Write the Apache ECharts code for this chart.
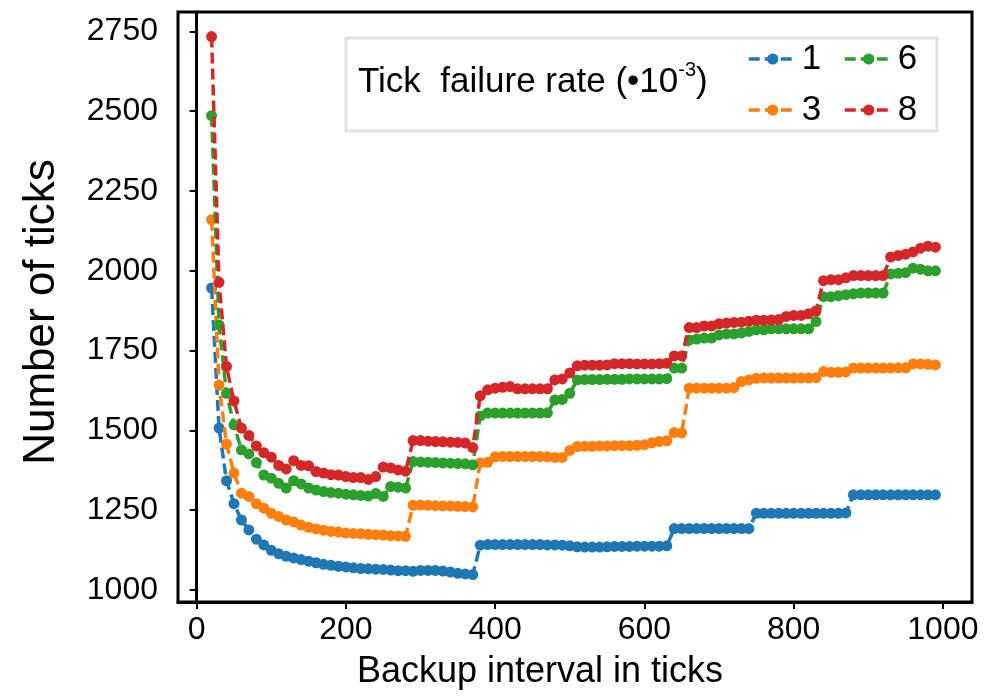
<!DOCTYPE html>
<html><head><meta charset="utf-8">
<script src="https://cdn.jsdelivr.net/npm/echarts@6/dist/echarts.min.js"></script>
<style>html,body{margin:0;padding:0;background:#fff}#c{width:999px;height:700px}</style>
</head><body><div id="c"></div>
<script>
const xValues = [20,30,40,50,60,70,80,90,100,110,120,130,140,150,160,170,180,190,200,210,220,230,240,250,260,270,280,290,300,310,320,330,340,350,360,370,380,390,400,410,420,430,440,450,460,470,480,490,500,510,520,530,540,550,560,570,580,590,600,610,620,630,640,650,660,670,680,690,700,710,720,730,740,750,760,770,780,790,800,810,820,830,840,850,860,870,880,890,900,910,920,930,940,950,960,970,980,990];
const rate1 = [1946,1507,1342,1270,1219,1188,1159,1141,1124,1113,
1105,1100,1095,1090,1085,1080,1077,1074,1072,1069,
1067,1066,1065,1064,1062,1060,1060,1058,1061,1061,
1061,1059,1056,1052,1050,1048,1140,1142,1142,1142,
1142,1142,1142,1142,1142,1141,1141,1140,1138,1135,
1134,1134,1134,1135,1136,1136,1136,1137,1137,1137,
1137,1138,1192,1192,1192,1192,1192,1192,1192,1192,
1192,1192,1192,1240,1240,1240,1240,1240,1240,1240,
1240,1240,1240,1240,1240,1241,1298,1298,1298,1298,
1298,1298,1298,1298,1298,1298,1298,1298];
const rate3 = [2160,1642,1457,1366,1303,1293,1270,1256,1240,1230,
1219,1213,1203,1196,1191,1187,1183,1181,1178,1177,
1176,1174,1173,1172,1170,1169,1168,1265,1266,1265,
1264,1263,1263,1262,1261,1260,1398,1400,1417,1418,
1418,1418,1418,1418,1418,1417,1415,1415,1437,1449,
1450,1450,1451,1451,1452,1452,1452,1453,1455,1461,
1465,1467,1493,1492,1632,1632,1632,1632,1632,1632,
1634,1653,1658,1663,1664,1664,1664,1664,1664,1664,
1664,1665,1684,1682,1682,1683,1695,1695,1695,1695,
1695,1695,1696,1696,1708,1708,1707,1705];
const rate6 = [2486,1830,1616,1517,1439,1426,1399,1360,1350,1334,
1319,1342,1332,1319,1313,1308,1305,1303,1300,1298,
1296,1294,1302,1293,1324,1322,1319,1402,1401,1400,
1399,1398,1397,1396,1395,1392,1545,1554,1554,1554,
1554,1554,1554,1554,1554,1555,1595,1597,1616,1658,
1659,1659,1659,1660,1660,1660,1661,1661,1661,1661,
1661,1662,1695,1695,1783,1786,1789,1789,1799,1802,
1802,1805,1810,1815,1815,1818,1818,1818,1818,1818,
1818,1841,1919,1919,1922,1925,1928,1930,1930,1930,
1930,1990,1992,1994,2008,2005,2000,2000];
const rate8 = [2734,1964,1700,1592,1507,1484,1451,1430,1416,1390,
1379,1405,1390,1389,1371,1366,1361,1360,1355,1352,
1352,1346,1355,1385,1382,1376,1372,1468,1468,1466,
1465,1464,1463,1462,1460,1446,1608,1627,1632,1635,
1637,1630,1630,1630,1630,1630,1658,1661,1680,1702,
1704,1704,1704,1705,1709,1709,1709,1708,1708,1708,
1709,1710,1733,1733,1822,1822,1827,1827,1834,1836,
1838,1839,1842,1845,1845,1846,1847,1857,1860,1860,
1865,1874,1969,1972,1972,1978,1985,1985,1985,1985,
1985,2043,2048,2052,2059,2071,2077,2074];
const seriesNames = ['1','3','6','8'];
const seriesValues = [rate1, rate3, rate6, rate8];
const colors = ['#1f77b4','#ff7f0e','#2ca02c','#d62728'];
const xTicks = [0,200,400,600,800,1000];
const yTicks = [1000,1250,1500,1750,2000,2250,2500,2750];
const xTitle = 'Backup interval in ticks';
const yTitle = 'Number of ticks';
const legendTitle = 'Tick  failure rate (\u202210';
const legendSup = '-3';

const FONT = 'Liberation Sans, Arial, sans-serif';
const chart = echarts.init(document.getElementById('c'), null, {renderer:'canvas'});

const series = seriesNames.map((n, k) => ({
  name: n,
  type: 'line',
  data: xValues.map((x, i) => [x, seriesValues[k][i]]),
  symbol: 'circle',
  symbolSize: 11,
  color: colors[k],
  itemStyle: {color: colors[k]},
  lineStyle: {color: colors[k], width: 3.5, type: [11, 5]},
  animation: false,
  z: 2 + k
}));

const legendCommon = {
  orient: 'vertical',
  top: 36,
  itemWidth: 48,
  itemHeight: 14,
  itemGap: 15,
  lineStyle: {width: 3.5},
  textStyle: {fontSize: 35, color: '#000', fontFamily: FONT, lineHeight: 36},
  z: 10
};

chart.setOption({
  backgroundColor: '#fff',
  animation: false,
  grid: {left: 178, top: 12, width: 794, height: 590, show: true, borderColor: '#000', borderWidth: 3, backgroundColor: 'transparent'},
  xAxis: {
    type: 'value', min: -25, max: 1039,
    axisLine: {show: true, lineStyle: {color: '#000', width: 3}},
    splitLine: {show: false},
    axisTick: {show: true, customValues: xTicks, length: 7, lineStyle: {color: '#000', width: 2}},
    axisLabel: {customValues: xTicks, fontSize: 32, color: '#000', fontFamily: FONT, margin: 12, formatter: v => String(v)},
    name: xTitle, nameLocation: 'middle', nameGap: 52,
    nameTextStyle: {fontSize: 36, color: '#000', fontFamily: FONT, padding: [0, 70, 0, 0]}
  },
  yAxis: {
    type: 'value', min: 962, max: 2811,
    axisLine: {show: true, lineStyle: {color: '#000', width: 3}},
    splitLine: {show: false},
    axisTick: {show: true, customValues: yTicks, length: 7, lineStyle: {color: '#000', width: 2}},
    axisLabel: {customValues: yTicks, fontSize: 32, color: '#000', fontFamily: FONT, margin: 20, formatter: v => String(v)},
    name: yTitle, nameLocation: 'middle', nameGap: 114, nameRotate: 90,
    nameTextStyle: {fontSize: 44, color: '#000', fontFamily: FONT, padding: [0, 10, 0, 0]}
  },
  legend: [
    Object.assign({data: ['1','3'], left: 742}, legendCommon),
    Object.assign({data: ['6','8'], left: 838}, legendCommon)
  ],
  graphic: [
    {type: 'rect', shape: {x: 346, y: 38, width: 591, height: 93}, style: {fill: '#fff', stroke: '#e2e2e2', lineWidth: 3}, z: 5, silent: true},
    {type: 'text', x: 358, y: 60, z: 6, silent: true,
     style: {text: '{t|' + legendTitle + '}{s|' + legendSup + '}{t|)}', fill: '#000',
       rich: {t: {fontSize: 35, fontFamily: FONT, lineHeight: 40, verticalAlign: 'bottom'},
              s: {fontSize: 20, fontFamily: FONT, verticalAlign: 'top'}}}}
  ],
  series: series
});
</script></body></html>
